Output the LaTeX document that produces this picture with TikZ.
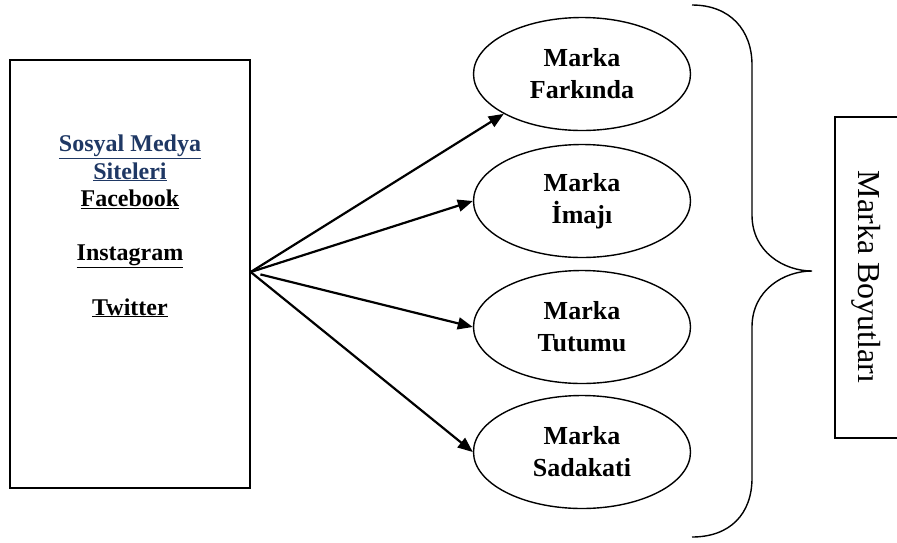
\documentclass[tikz,border=0pt]{standalone}
\usepackage{fontspec}
\setmainfont{Liberation Serif}
\usetikzlibrary{shapes.geometric,arrows.meta}
\definecolor{navy}{RGB}{31,56,100}
\begin{document}
\begin{tikzpicture}[x=1pt,y=-1pt,
  boxline/.style={line width=1.4pt},
  ell/.style={ellipse, draw, line width=1.4pt, minimum width=217pt, minimum height=113pt,
    inner sep=0pt, align=center, font=\fontsize{26}{32}\selectfont\bfseries},
  arr/.style={line width=2.2pt, -{Triangle[length=15pt,width=12pt]}},
  lbl/.style={inner sep=0pt, align=center, font=\fontsize{24}{27.2}\selectfont\bfseries}
]
\useasboundingbox (0,0) rectangle (897,542);
\fill[white] (0,0) rectangle (897,542);

% left box
\node[draw, boxline, minimum width=240pt, minimum height=428pt, inner sep=0pt] (sm) at (130,274) {};
\node[lbl, anchor=north] (smtext) at (130,135)
  {\textcolor{navy}{\underline{Sosyal Medya}}\\
   \textcolor{navy}{\underline{Siteleri}}\\
   \underline{Facebook}\\
   \strut\\
   \underline{Instagram}\\
   \strut\\
   \underline{Twitter}};
\coordinate (src) at ([yshift=2pt]sm.east);

% ellipses
\node[ell] (e1) at (582,74) {Marka\\Farkında};
\node[ell] (e2) at (582,201) {Marka\\İmajı};
\node[ell] (e3) at (582,327) {Marka\\Tutumu};
\node[ell] (e4) at (582,452) {Marka\\Sadakati};

% arrows
\draw[arr] (src) -- (e1.207);
\draw[arr] (src) -- (e2.west);
\draw[arr, shorten <=10pt] (src) -- (e3.west);
\draw[arr] (src) -- (e4.west);

% brace
\draw[boxline] (692,5) .. controls (730,5) and (752,30) .. (752,65)
  -- (752,215) .. controls (752,252) and (784,271) .. (812,271)
  .. controls (784,271) and (752,290) .. (752,327)
  -- (752,478) .. controls (752,514) and (730,537) .. (692,537);

% right box
\draw[boxline] (897,117) -- (835,117) -- (835,438) -- (897,438);
\node[inner sep=0pt, rotate=-90, font=\fontsize{32}{36}\selectfont] (mb) at (866,277) {Marka Boyutları};
\end{tikzpicture}
\end{document}
